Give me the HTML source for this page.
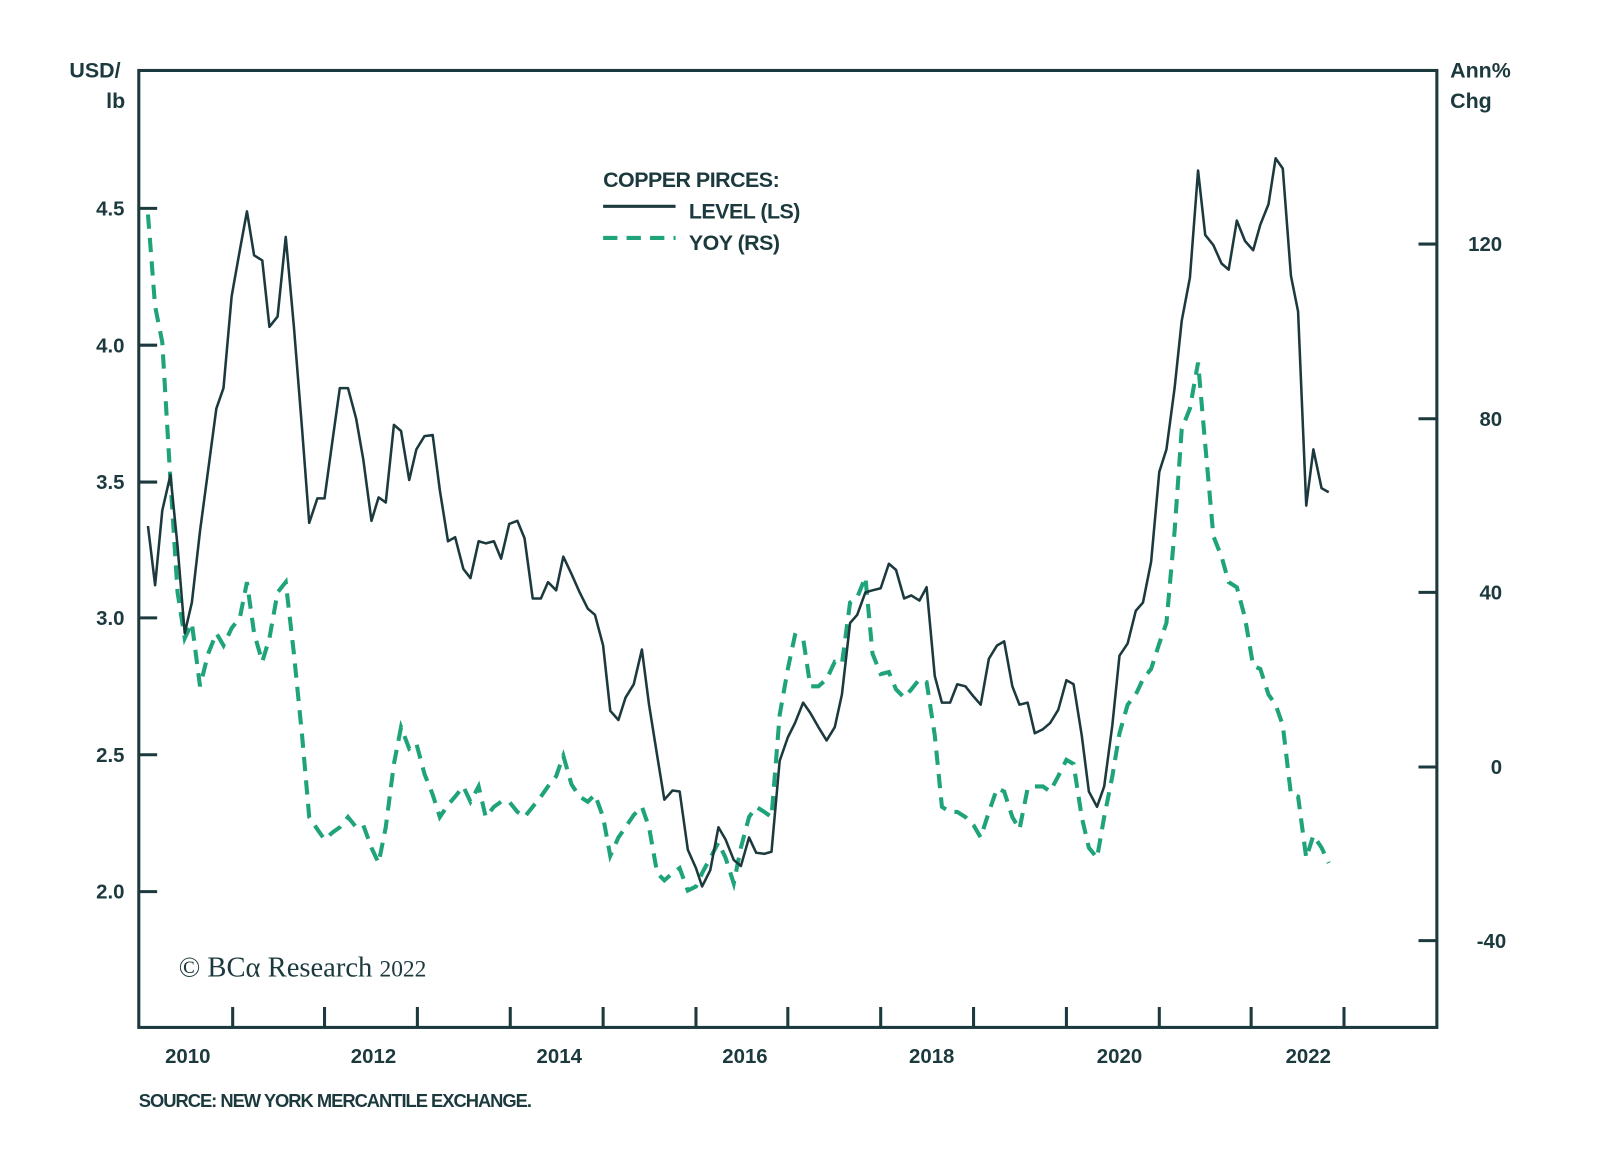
<!DOCTYPE html>
<html><head><meta charset="utf-8"><style>
html,body{margin:0;padding:0;background:#fff;}
svg{display:block;}
text{font-family:"Liberation Sans",sans-serif;fill:#1c3a3e;}
</style></head><body>
<svg width="1600" height="1174" viewBox="0 0 1600 1174" xmlns="http://www.w3.org/2000/svg">
<g transform="scale(1.0205,1.0213)">
<g stroke="#1c3a3e" stroke-width="3" fill="none">
<rect x="136" y="69" width="1272" height="937"/>
<line x1="136" y1="204" x2="154" y2="204"/><line x1="136" y1="338" x2="154" y2="338"/><line x1="136" y1="472" x2="154" y2="472"/><line x1="136" y1="605" x2="154" y2="605"/><line x1="136" y1="739" x2="154" y2="739"/><line x1="136" y1="873" x2="154" y2="873"/>
<line x1="1390" y1="239" x2="1408" y2="239"/><line x1="1390" y1="410" x2="1408" y2="410"/><line x1="1390" y1="580" x2="1408" y2="580"/><line x1="1390" y1="751" x2="1408" y2="751"/><line x1="1390" y1="921" x2="1408" y2="921"/>
<line x1="228" y1="986" x2="228" y2="1006"/><line x1="318" y1="986" x2="318" y2="1006"/><line x1="409" y1="986" x2="409" y2="1006"/><line x1="500" y1="986" x2="500" y2="1006"/><line x1="591" y1="986" x2="591" y2="1006"/><line x1="682" y1="986" x2="682" y2="1006"/><line x1="772" y1="986" x2="772" y2="1006"/><line x1="863" y1="986" x2="863" y2="1006"/><line x1="954" y1="986" x2="954" y2="1006"/><line x1="1045" y1="986" x2="1045" y2="1006"/><line x1="1136" y1="986" x2="1136" y2="1006"/><line x1="1226" y1="986" x2="1226" y2="1006"/><line x1="1317" y1="986" x2="1317" y2="1006"/>
</g>
<g font-size="20" font-weight="bold" text-anchor="end">
<text x="122" y="211">4.5</text><text x="122" y="345">4.0</text><text x="122" y="479">3.5</text><text x="122" y="612">3.0</text><text x="122" y="746">2.5</text><text x="122" y="880">2.0</text>
<text x="1472" y="246">120</text><text x="1472" y="417">80</text><text x="1472" y="587">40</text><text x="1472" y="758">0</text><text x="1476" y="928">-40</text>
</g>
<g font-size="21" font-weight="bold">
<text x="68" y="76">USD/</text><text x="104" y="106">lb</text>
<text x="1421" y="76">Ann%</text><text x="1421" y="106">Chg</text>
</g>
<g font-size="20" font-weight="bold" text-anchor="middle">
<text x="184" y="1041">2010</text><text x="366" y="1041">2012</text><text x="548" y="1041">2014</text><text x="730" y="1041">2016</text><text x="913" y="1041">2018</text><text x="1097" y="1041">2020</text><text x="1282" y="1041">2022</text>
</g>
<text x="136" y="1084" font-size="18" font-weight="bold" letter-spacing="-1">SOURCE: NEW YORK MERCANTILE EXCHANGE.</text>
<text x="175" y="956" font-size="28" style="font-family:'Liberation Serif',serif">© BCα Research <tspan font-size="23">2022</tspan></text>
<g font-size="21" font-weight="bold" letter-spacing="-0.5">
<text x="591" y="183">COPPER PIRCES:</text>
<text x="675" y="214">LEVEL (LS)</text>
<text x="675" y="245">YOY (RS)</text>
</g>
<line x1="591" y1="202" x2="662" y2="202" stroke="#1c3a3e" stroke-width="3"/>
<line x1="591" y1="233" x2="662" y2="233" stroke="#1fa37a" stroke-width="4" stroke-dasharray="14,9"/>
<polyline fill="none" stroke="#1fa37a" stroke-width="4" stroke-dasharray="14,9" points="145,210 152,300 159,335 167,470 174,580 181,625 188,610 196,672 204,640 212,620 219,632 227,615 235,605 242,570 249,620 257,648 264,625 272,580 280,570 288,640 296,720 303,800 311,812 318,822 326,815 333,810 341,800 349,810 356,808 364,830 371,845 378,810 386,748 393,712 401,733 408,728 416,758 424,778 431,800 439,788 446,780 454,770 461,785 469,770 476,800 484,790 491,785 499,785 507,795 514,800 522,790 530,780 537,770 545,760 552,740 560,768 568,780 576,785 583,778 591,800 598,838 606,820 613,810 621,798 629,790 636,810 644,855 651,862 659,855 666,850 674,872 682,868 688,855 696,840 704,825 711,840 719,865 726,830 734,800 741,790 749,795 756,800 764,700 772,655 779,622 787,625 794,672 802,672 810,665 818,648 825,650 833,590 840,585 848,565 855,640 863,660 871,658 878,675 886,683 893,675 901,665 908,668 916,720 923,790 931,795 938,795 946,800 954,808 961,820 969,795 977,772 984,775 992,800 999,812 1007,772 1014,770 1022,770 1029,775 1037,760 1045,744 1052,748 1060,800 1067,830 1075,840 1082,800 1090,760 1097,718 1105,690 1113,680 1120,665 1128,655 1136,630 1143,610 1151,520 1158,420 1166,400 1174,355 1181,435 1189,525 1197,545 1204,570 1212,575 1220,605 1228,652 1235,655 1243,680 1250,690 1257,710 1265,778 1272,780 1280,840 1287,818 1295,830 1302,845"/>
<polyline fill="none" stroke="#1c3a3e" stroke-width="2.5" stroke-linejoin="round" points="145,515 152,573 159,500 167,465 174,535 181,620 188,590 196,520 204,460 212,400 219,380 227,290 235,245 242,207 249,250 257,255 264,320 272,310 280,232 288,320 296,420 303,512 311,488 318,488 326,430 333,380 341,380 349,410 356,450 364,510 371,487 378,492 386,416 393,422 401,470 408,440 416,427 424,426 431,480 439,530 446,526 454,557 461,566 469,530 476,532 484,530 491,547 499,513 507,510 514,527 522,586 530,586 537,570 545,578 552,545 560,562 568,580 576,596 583,602 591,632 598,696 606,705 613,683 621,670 629,636 636,690 644,740 651,783 659,774 666,775 674,832 682,850 688,868 696,852 704,810 711,822 719,842 726,848 734,820 741,835 749,836 756,834 764,745 772,722 779,708 787,688 794,698 802,712 810,725 818,712 825,680 833,610 840,602 848,580 855,578 863,576 871,552 878,558 886,586 893,583 901,588 908,575 916,662 923,688 931,688 938,670 946,672 954,682 961,690 969,645 977,632 984,628 992,672 999,690 1007,688 1014,718 1022,714 1029,708 1037,695 1045,666 1052,670 1060,720 1067,775 1075,790 1082,770 1090,710 1097,642 1105,630 1113,598 1120,590 1128,550 1136,462 1143,440 1151,380 1158,314 1166,272 1174,167 1181,230 1189,240 1197,258 1204,264 1212,216 1220,236 1228,245 1235,220 1243,200 1250,155 1257,165 1265,270 1272,305 1280,495 1287,440 1295,478 1302,482"/>
</g>
</svg>
</body></html>
